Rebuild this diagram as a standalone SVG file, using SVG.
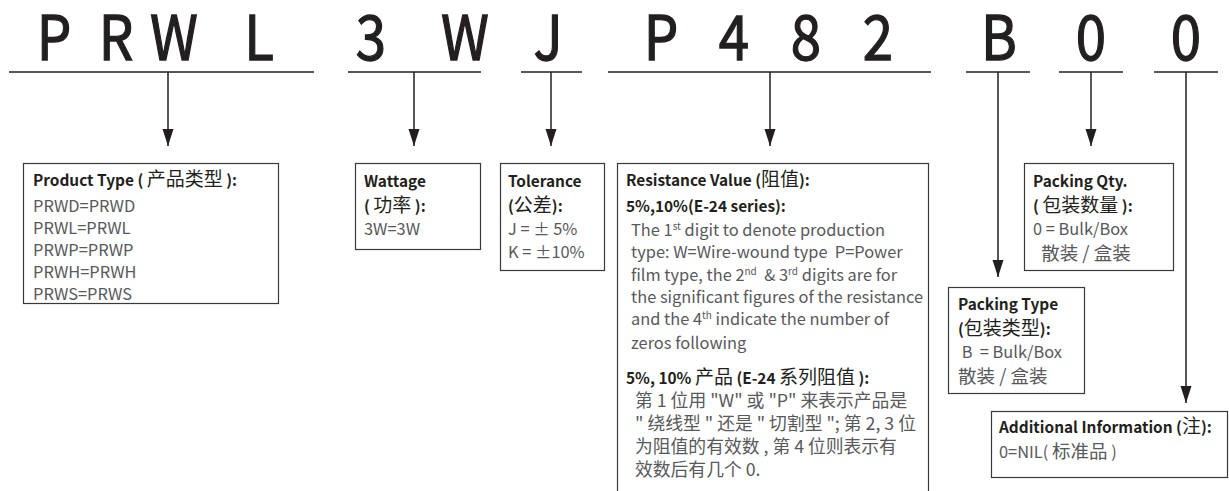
<svg xmlns="http://www.w3.org/2000/svg" width="1229" height="491" viewBox="0 0 1229 491">
<defs>
<style>
text { white-space: pre; }
.hd { font-family: "Noto Sans CJK SC", "Liberation Sans", sans-serif; font-size: 62px; font-weight: 400; fill: #231f20; stroke: #231f20; stroke-width: 1.3; text-anchor: middle; }
.t { font-family: "Noto Sans CJK SC", "Liberation Sans", sans-serif; font-size: 15.4px; font-weight: 700; fill: #231f20; }
.b { font-family: "Noto Sans CJK SC", "Liberation Sans", sans-serif; font-size: 16.4px; font-weight: 400; fill: #58595b; }
.c { font-size: 19px; font-weight: 400; }
.cb { font-size: 17.8px; }
.cp { font-size: 18.5px; }
.sup { font-size: 10px; }
.box { fill: #ffffff; stroke: #3a3a3a; stroke-width: 1.2; }
.ul { stroke: #231f20; stroke-width: 1.6; fill: none; }
.ar { stroke: #231f20; stroke-width: 1.5; fill: none; marker-end: url(#ah); }
</style>
<marker id="ah" markerUnits="userSpaceOnUse" markerWidth="18" markerHeight="12" refX="17" refY="6" orient="auto" viewBox="0 0 18 12">
<path d="M0,0.5 L17,6 L0,11.5 z" fill="#231f20"/>
</marker>
</defs>
<rect width="1229" height="491" fill="#ffffff"/>

<g id="code">
<text class="hd" transform="translate(54,60) scale(0.88,1)">P</text>
<text class="hd" transform="translate(116,60) scale(0.88,1)">R</text>
<text class="hd" transform="translate(174,60) scale(0.88,1)">W</text>
<text class="hd" transform="translate(259,60) scale(0.88,1)">L</text>
<text class="hd" transform="translate(371,60) scale(0.88,1)">3</text>
<text class="hd" transform="translate(465,60) scale(0.88,1)">W</text>
<text class="hd" transform="translate(548,60) scale(0.88,1)">J</text>
<text class="hd" transform="translate(661,60) scale(0.88,1)">P</text>
<text class="hd" transform="translate(734,60) scale(0.88,1)">4</text>
<text class="hd" transform="translate(806,60) scale(0.88,1)">8</text>
<text class="hd" transform="translate(878,60) scale(0.88,1)">2</text>
<text class="hd" transform="translate(999,60) scale(0.88,1)">B</text>
<text class="hd" transform="translate(1091,60) scale(0.88,1)">0</text>
<text class="hd" transform="translate(1186,60) scale(0.88,1)">0</text>
</g>

<g id="connectors">
<line class="ul" x1="9" y1="72" x2="314" y2="72"/>
<line class="ul" x1="348" y1="72" x2="481" y2="72"/>
<line class="ul" x1="521" y1="72" x2="582" y2="72"/>
<line class="ul" x1="608" y1="72" x2="931" y2="72"/>
<line class="ul" x1="966" y1="72" x2="1030" y2="72"/>
<line class="ul" x1="1059" y1="72" x2="1123" y2="72"/>
<line class="ul" x1="1154" y1="72" x2="1218" y2="72"/>
<line class="ar" x1="168" y1="72" x2="168" y2="146"/>
<line class="ar" x1="414" y1="72" x2="414" y2="146"/>
<line class="ar" x1="551" y1="72" x2="551" y2="146"/>
<line class="ar" x1="770" y1="72" x2="770" y2="146"/>
<line class="ar" x1="998" y1="72" x2="998" y2="277"/>
<line class="ar" x1="1091" y1="72" x2="1091" y2="146"/>
<line class="ar" x1="1186" y1="72" x2="1186" y2="403"/>
</g>

<g id="product-type">
<rect class="box" x="23.5" y="163.5" width="255" height="140"/>
<text class="t" x="33" y="186">Product Type ( <tspan class="c">产品类型</tspan> ):</text>
<text class="b" x="33" y="212">PRWD=PRWD</text>
<text class="b" x="33" y="234">PRWL=PRWL</text>
<text class="b" x="33" y="256">PRWP=PRWP</text>
<text class="b" x="33" y="278">PRWH=PRWH</text>
<text class="b" x="33" y="300">PRWS=PRWS</text>
</g>

<g id="wattage">
<rect class="box" x="355.5" y="163.5" width="125" height="86"/>
<text class="t" x="364" y="187">Wattage</text>
<text class="t" x="364" y="212">( <tspan class="c">功率</tspan> ):</text>
<text class="b" x="364" y="235">3W=3W</text>
</g>

<g id="tolerance">
<rect class="box" x="500.5" y="163.5" width="104" height="107"/>
<text class="t" x="508" y="187">Tolerance</text>
<text class="t" x="508" y="212">(<tspan class="c">公差</tspan>):</text>
<text class="b" x="508" y="235">J = ± 5%</text>
<text class="b" x="508" y="258">K = ±10%</text>
</g>

<g id="resistance-value">
<rect class="box" x="617.5" y="163.5" width="311" height="332"/>
<text class="t" x="626" y="186">Resistance Value (<tspan class="c">阻值</tspan>):</text>
<text class="t" x="626" y="212">5%,10%(E-24 series):</text>
<text class="b" x="631" y="236">The 1<tspan class="sup" baseline-shift="6">st</tspan> digit to denote production</text>
<text class="b" x="631" y="258">type: W=Wire-wound type  P=Power</text>
<text class="b" x="631" y="281">film type, the 2<tspan class="sup" baseline-shift="6">nd</tspan>  &amp; 3<tspan class="sup" baseline-shift="6">rd</tspan> digits are for</text>
<text class="b" x="631" y="303">the significant figures of the resistance</text>
<text class="b" x="631" y="325">and the 4<tspan class="sup" baseline-shift="6">th</tspan> indicate the number of</text>
<text class="b" x="631" y="349">zeros following</text>
<text class="t" x="626" y="384">5%, 10% <tspan class="c">产品</tspan> (E-24 <tspan class="c">系列阻值</tspan> ):</text>
<text class="b cb" x="635" y="407">第 1 位用 "W" 或 "P" 来表示产品是</text>
<text class="b cb" x="635" y="430">" 绕线型 " 还是 " 切割型 "; 第 2, 3 位</text>
<text class="b cb" x="635" y="453">为阻值的有效数 , 第 4 位则表示有</text>
<text class="b cb" x="635" y="476">效数后有几个 0.</text>
</g>

<g id="packing-qty">
<rect class="box" x="1024.5" y="163.5" width="149" height="107"/>
<text class="t" x="1033" y="187">Packing Qty.</text>
<text class="t" x="1033" y="212">( <tspan class="c">包装数量</tspan> ):</text>
<text class="b" x="1033" y="235">0 = Bulk/Box</text>
<text class="b cp" x="1037" y="260"> 散装 / 盒装</text>
</g>

<g id="packing-type">
<rect class="box" x="948.5" y="287.5" width="136" height="106"/>
<text class="t" x="958" y="310">Packing Type</text>
<text class="t" x="958" y="335">(<tspan class="c">包装类型</tspan>):</text>
<text class="b" x="958" y="358"> B  = Bulk/Box</text>
<text class="b cp" x="958" y="383">散装 / 盒装</text>
</g>

<g id="additional-information">
<rect class="box" x="991.5" y="411.5" width="236" height="66"/>
<text class="t" x="999" y="433">Additional Information (<tspan class="c">注</tspan>):</text>
<text class="b" x="999" y="458">0=NIL( <tspan class="cp">标准品</tspan> )</text>
</g>
</svg>
